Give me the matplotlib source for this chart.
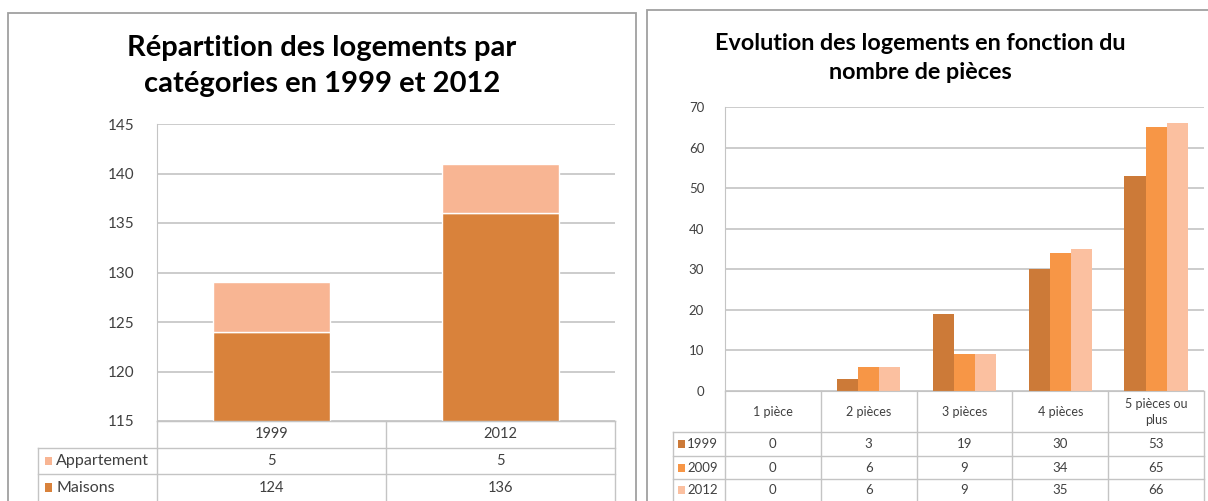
import matplotlib
matplotlib.use("Agg")
import matplotlib.pyplot as plt
from matplotlib.patches import Rectangle
from matplotlib.lines import Line2D

# ---------------- data ----------------
years_left = ["1999", "2012"]
maisons = [124, 136]
appartement = [5, 5]
left_series_names = ["Appartement", "Maisons"]

rooms = ["1 pièce", "2 pièces", "3 pièces", "4 pièces", "5 pièces ou\nplus"]
years_right = ["1999", "2009", "2012"]
v1999 = [0, 3, 19, 30, 53]
v2009 = [0, 6, 9, 34, 65]
v2012 = [0, 6, 9, 35, 66]

left_yticks = [115, 120, 125, 130, 135, 140, 145]
right_yticks = [0, 10, 20, 30, 40, 50, 60, 70]

# ---------------- style ----------------
plt.rcParams['font.family'] = ['Lato', 'DejaVu Sans']
W, H = 1208, 501
fig = plt.figure(figsize=(W / 100, H / 100), dpi=100)
fig.patch.set_facecolor("white")

GRID = "#C4C4C4"
TXT = "#404040"
C_MAIS = "#D9823B"
C_APP = "#F8B593"
C_R = ["#CC7A38", "#F79646", "#FBC0A0"]


def fx(x):
    return x / W


def fy(y):
    return 1 - y / H


def line(x0, y0, x1, y1, color=GRID, lw=1.0):
    fig.add_artist(Line2D([fx(x0), fx(x1)], [fy(y0), fy(y1)],
                          transform=fig.transFigure, color=color, lw=lw))


def text(x, y, s, size, ha="center", va="center", **kw):
    fig.text(fx(x), fy(y), s, fontsize=size, ha=ha, va=va, color=kw.pop("color", TXT), **kw)


# panel borders
fig.add_artist(Rectangle((fx(8), fy(520)), fx(636) - fx(8), fy(13) - fy(520),
                         transform=fig.transFigure, fill=False, ec="#A0A0A0", lw=1.3))
fig.add_artist(Rectangle((fx(647), fy(520)), fx(1230) - fx(647), fy(10) - fy(520),
                         transform=fig.transFigure, fill=False, ec="#A0A0A0", lw=1.3))

# ---------------- left chart ----------------
L0, L1, T0, B0 = 157, 615, 124, 421
ax1 = fig.add_axes([fx(L0), fy(B0), fx(L1) - fx(L0), fy(T0) - fy(B0)])
x1 = list(range(len(years_left)))
ax1.bar(x1, maisons, width=0.51, color=C_MAIS, edgecolor="white", lw=1)
ax1.bar(x1, appartement, bottom=maisons, width=0.51, color=C_APP, edgecolor="white", lw=1)
ax1.set_xlim(-0.5, len(years_left) - 0.5)
ax1.set_ylim(left_yticks[0], left_yticks[-1])
ax1.set_yticks(left_yticks)
ax1.set_xticks([])
ax1.yaxis.grid(True, color=GRID, lw=1.2)
ax1.set_axisbelow(True)
for s in ["top", "right"]:
    ax1.spines[s].set_visible(False)
ax1.spines["left"].set_color(GRID)
ax1.spines["bottom"].set_color(GRID)
ax1.tick_params(axis="y", length=0, pad=16, labelsize=11, labelcolor=TXT)

fig.text(fx(322), fy(66), "Répartition des logements par\ncatégories en 1999 et 2012",
         ha="center", va="center", fontsize=21, fontweight="bold", color="black",
         linespacing=1.45)

# left table
colw = (L1 - L0) / len(years_left)
rows_y = [B0, 448, 474, 501]
legx = 38
line(L0, rows_y[0], L1, rows_y[0])
for yy in rows_y[1:3]:
    line(legx, yy, L1, yy)
line(legx, rows_y[1], legx, 501)
for i in range(len(years_left) + 1):
    xx = L0 + i * colw
    line(xx, rows_y[0], xx, 501)
for i, yr in enumerate(years_left):
    cx = L0 + (i + 0.5) * colw
    text(cx, (rows_y[0] + rows_y[1]) / 2, yr, 10.5)
    text(cx, (rows_y[1] + rows_y[2]) / 2, str(appartement[i]), 10.5)
    text(cx, (rows_y[2] + rows_y[3]) / 2, str(maisons[i]), 10.5)
for r, (name, col) in enumerate(zip(left_series_names, [C_APP, C_MAIS])):
    yc = (rows_y[1 + r] + rows_y[2 + r]) / 2
    fig.add_artist(Rectangle((fx(45), fy(yc + 4)), fx(52) - fx(45), fy(yc - 4) - fy(yc + 4),
                             transform=fig.transFigure, color=col, lw=0))
    text(56, yc, name, 11.5, ha="left")

# ---------------- right chart ----------------
R0, R1, T1, B1 = 725, 1204, 107, 391
ax2 = fig.add_axes([fx(R0), fy(B1), fx(R1) - fx(R0), fy(T1) - fy(B1)])
bw = 0.22
xs = list(range(len(rooms)))
for k, (vals, col) in enumerate(zip([v1999, v2009, v2012], C_R)):
    ax2.bar([x + (k - 1) * bw for x in xs], vals, width=bw, color=col, lw=0)
ax2.set_xlim(-0.5, len(rooms) - 0.5)
ax2.set_ylim(right_yticks[0], right_yticks[-1])
ax2.set_yticks(right_yticks)
ax2.set_xticks([])
ax2.yaxis.grid(True, color=GRID, lw=1.2)
ax2.set_axisbelow(True)
for s in ["top", "right"]:
    ax2.spines[s].set_visible(False)
ax2.spines["left"].set_color(GRID)
ax2.spines["bottom"].set_color(GRID)
ax2.tick_params(axis="y", length=0, pad=15, labelsize=9.5, labelcolor=TXT)

fig.text(fx(920), fy(58), "Evolution des logements en fonction du\nnombre de pièces",
         ha="center", va="center", fontsize=16.8, fontweight="bold", color="black",
         linespacing=1.45)

# right table
colw2 = (R1 - R0) / len(rooms)
rows2 = [B1, 432, 456, 479, 501]
legx2 = 673
for yy in rows2[1:4]:
    line(legx2, yy, R1, yy)
line(legx2, rows2[1], legx2, 501)
for i in range(len(rooms) + 1):
    xx = R0 + i * colw2
    line(xx, rows2[0], xx, 501)
for i, rm in enumerate(rooms):
    cx = R0 + (i + 0.5) * colw2
    text(cx, (rows2[0] + rows2[1]) / 2, rm, 9, linespacing=1.4)
    for r, vals in enumerate([v1999, v2009, v2012]):
        text(cx, (rows2[1 + r] + rows2[2 + r]) / 2, str(vals[i]), 9.5)
for r, (yr, col) in enumerate(zip(years_right, C_R)):
    yc = (rows2[1 + r] + rows2[2 + r]) / 2
    fig.add_artist(Rectangle((fx(678), fy(yc + 4)), fx(685) - fx(678), fy(yc - 4) - fy(yc + 4),
                             transform=fig.transFigure, color=col, lw=0))
    text(687, yc, yr, 9.5, ha="left")

fig.savefig("out.png", dpi=100, facecolor="white")
